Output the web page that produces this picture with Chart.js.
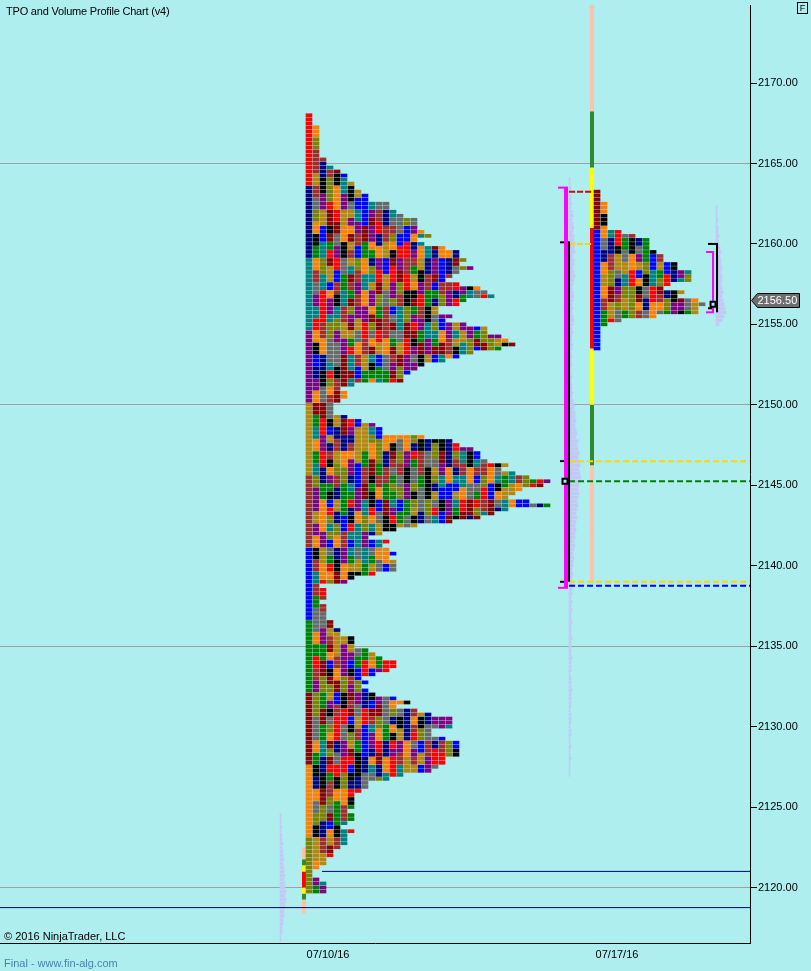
<!DOCTYPE html>
<html>
<head>
<meta charset="utf-8">
<title>TPO and Volume Profile Chart (v4)</title>
<script src="https://cdn.jsdelivr.net/npm/chart.js@4.4.1/dist/chart.umd.min.js"></script>
<style>
  html, body { margin: 0; padding: 0; background: #afeeee; }
  #wrap { position: relative; width: 811px; height: 971px; overflow: hidden; }
  #tpochart { position: absolute; left: 0; top: 0; }
  .lbl { position: absolute; font-family: 'Liberation Sans', Arial, sans-serif; font-size: 11px; line-height: 13px; color: #000; white-space: nowrap; }
  #title { left: 6px; top: 5px; letter-spacing: -0.2px; }
  #copy { left: 4px; top: 930px; }
  #final { left: 4px; top: 957px; color: #4682b4; }
  #fbox { left: 797px; top: 2px; width: 9px; height: 10px; border: 1px solid #000; font-size: 9px; line-height: 10px; text-align: center; }
</style>
</head>
<body>
<div id="wrap">
  <canvas id="tpochart" width="811" height="971"></canvas>
  <div class="lbl" id="title">TPO and Volume Profile Chart (v4)</div>
  <div class="lbl" id="fbox">F</div>
  <div class="lbl" id="copy">© 2016 NinjaTrader, LLC</div>
  <div class="lbl" id="final">Final - www.fin-alg.com</div>
</div>
<script>
// price axis
const TICK = 0.25;
const PRICE_MIN = 2116.55;
const PRICE_MAX = 2174.85;
const PRICE_TICKS = [2120, 2125, 2130, 2135, 2140, 2145, 2150, 2155, 2160, 2165, 2170];
const GRID_PRICES = [2120, 2135, 2150, 2165];

// x axis is counted in TPO columns
const X_MAX = 107.14;
const DATE_LABELS = ["07/10/16", "07/17/16"];
const DATE_POS = [46.86, 88.14];

// TPO letters per 0.25 row, going down from the top price
const TPO_A_TOP = 2168;
const TPO_A_START = 43.71;
const TPO_A_COUNT = [
    1, 1, 1, 2, 2, 2, 2, 2, 2, 2,
    2, 3, 3, 4, 5, 6, 6, 7, 7, 8,
    9, 9, 12, 12, 13, 14, 16, 16, 16, 17,
    18, 16, 17, 20, 22, 22, 23, 22, 24, 22,
    21, 20, 22, 25, 26, 27, 23, 22, 19, 19,
    21, 20, 23, 26, 26, 28, 29, 30, 28, 24,
    22, 20, 17, 16, 15, 14, 14, 7, 5, 6,
    6, 5, 4, 4, 4, 6, 8, 10, 11, 11,
    17, 21, 22, 24, 25, 25, 26, 29, 28, 30,
    32, 35, 34, 31, 30, 29, 32, 35, 29, 27,
    25, 21, 16, 13, 11, 9, 12, 11, 12, 13,
    12, 13, 13, 13, 10, 7, 6, 2, 3, 3,
    3, 2, 3, 3, 3, 3, 4, 4, 5, 5,
    7, 7, 7, 9, 10, 11, 13, 13, 12, 10,
    8, 9, 8, 9, 10, 13, 15, 13, 16, 18,
    21, 21, 21, 18, 18, 20, 22, 22, 22, 22,
    20, 20, 19, 18, 14, 12, 9, 9, 8, 7,
    7, 7, 7, 6, 7, 7, 6, 5, 7, 6,
    6, 6, 5, 4, 4, 3, 3, 2, 1, 1,
    2, 3, 3, 3
];

const TPO_B_TOP = 2163.25;
const TPO_B_START = 84.86;
const TPO_B_COUNT = [
    1, 1, 1, 2, 2, 2, 2, 2, 2, 2,
    4, 6, 8, 8, 8, 9, 10, 10, 12, 12,
    14, 14, 14, 11, 10, 13, 12, 15, 16, 15,
    15, 9, 4, 2, 1, 1, 1, 1, 1, 1
];

// volume profiles (relative volume per 0.25 row, going down)
const VOL_A_TOP = 2124.5;
const VOL_A_START = 40;
const VOL_A = [
    1, 1, 1, 2, 1, 2, 2, 3, 2, 3, 3, 4, 3, 4, 4, 5,
    4, 5, 5, 6, 5, 6, 5, 5, 4, 4, 3, 3, 2, 2, 1, 1
];
const VOL_B_TOP = 2164;
const VOL_B_START = 81.29;
const VOL_B = [
    1, 1, 2, 1, 2, 2, 3, 2, 3, 4, 3, 4, 5, 4, 5,
    5, 6, 5, 6, 4, 5, 5, 4, 5, 6, 5, 4, 3, 4, 5, 4, 3, 4, 3, 4, 5, 4, 3, 4, 3, 3, 4, 3, 2, 3,
    2, 3, 2, 2, 3, 2, 3, 3, 4, 3, 4, 5, 5, 6,
    6, 7, 6, 7, 8, 7, 9, 8, 9, 10, 9, 10, 11, 10, 11, 12, 11, 10, 9, 10, 9, 8, 9, 8, 7, 8, 7, 6, 7, 6,
    6, 5, 6, 5, 4, 5, 4, 4, 3, 4, 3, 3, 4, 3, 3, 2, 3, 2, 3, 2, 2, 3, 2, 2, 2, 3, 2, 2,
    2, 2, 3, 2, 2, 2, 1, 2, 2, 2, 3, 2, 2, 2, 2, 1, 2, 2, 2, 1, 2, 2, 1, 1, 2, 1, 1, 2, 1, 1, 1, 1
];
const VOL_C_TOP = 2162.25;
const VOL_C_START = 102.29;
const VOL_C = [
    1, 1, 1, 2, 1, 2, 2, 3, 2, 3, 4, 5, 4, 5, 5,
    6, 5, 6, 6, 5, 6, 7, 6, 7, 8, 9, 10, 8, 6, 3
];

// initial balance and range extension levels
const RANGE_A_X = 43.43;
const RANGE_A_LEVELS = [2122.5, 2121.75, 2121.375, 2121, 2120, 2119.625, 2119.25, 2118.375];
const RANGE_B_X = 84.57;
const RANGE_B_LEVELS = [2175.25, 2168.25, 2164.75, 2161, 2153.5, 2150, 2146.25, 2139];

// value area / range brackets
const MAGENTA_A = [2163.5, 2138.625];
const BLACK_A = [2160.1, 2139];
const BLACK_A_MARK = 2146.5;
const POC_A = 2145.25;
const MAGENTA_C = [2159.5, 2155.75];
const BLACK_C = [2160, 2155.75];
const BLACK_C_MARK = 2156;
const POC_C = 2156.25;

// carried levels
const SHORT_LEVELS = [2163.25, 2160];
const LONG_LEVELS = [2146.5, 2145.25, 2139, 2138.75];
const NAVY_LEVELS = [2121, 2118.75];
const LAST_PRICE = 2156.5;

// styles
const BG = "#afeeee";
const PALETTE = ["#ff0000", "#808000", "#008000", "#a52a2a", "#000000", "#008080", "#8b0000",
                 "#ff8000", "#800080", "#0000ff", "#000080", "#b8860b", "#696969"];
const FIRST_A = [0, 10, 5, 8, 11, 3, 9, 2, 6, 7, 1];
const FIRST_B = [6, 9, 9, 9];
const RANGE_COLORS = ["#ffc4a8", "#2e8b2e", "#ffff00", "#ff0000", "#ffff00", "#2e8b2e", "#ffc4a8"];
const SHORT_COLORS = ["#e00000", "#ffd700"];
const LONG_COLORS = ["#ffd700", "#008000", "#ffd700", "#0000ff"];
const CELL = 6 / 7;
const VOL_SCALE = 1 / 7;
const VOL_COLOR = "#c3c9f6";

Chart.defaults.font.family = "'Liberation Sans', Arial, sans-serif";
Chart.defaults.font.size = 11;
Chart.defaults.color = "#000";

function cellColor(i, k, seed, first, firstRun) {
    if (k === 0) return first[Math.floor(i / firstRun) % first.length];
    const run = 2 + (k % 3);
    let h = Math.imul(Math.floor(i / run) + 1 + seed * 131, 0x9E3779B1) ^ Math.imul(k + 7, 0x85EBCA6B);
    h ^= h >>> 15;
    h = Math.imul(h, 0x2C1B3C6D);
    h ^= h >>> 12;
    return (h >>> 0) % PALETTE.length;
}

const buckets = PALETTE.map(() => []);
function addProfile(top, start, counts, seed, first, firstRun) {
    counts.forEach((n, i) => {
        for (let k = 0; k < n; k++) {
            buckets[cellColor(i, k, seed, first, firstRun)].push({ y: top - i * TICK, x: [start + k, start + k + CELL] });
        }
    });
}
addProfile(TPO_A_TOP, TPO_A_START, TPO_A_COUNT, 0, FIRST_A, 18);
addProfile(TPO_B_TOP, TPO_B_START, TPO_B_COUNT, 2, FIRST_B, 10);

function volBars(top, start, vols) {
    return vols.map((v, i) => ({ y: top - i * TICK, x: [start, start + v * VOL_SCALE] }));
}

function seg(points, color, width, dash, order) {
    return {
        type: "line", data: points, borderColor: color, borderWidth: width,
        borderDash: dash || [], pointRadius: 0, pointHoverRadius: 0, fill: false, tension: 0,
        borderCapStyle: "butt", order: order
    };
}

const datasets = [];

// volume profiles underneath
[[VOL_A_TOP, VOL_A_START, VOL_A], [VOL_B_TOP, VOL_B_START, VOL_B], [VOL_C_TOP, VOL_C_START, VOL_C]].forEach(v => {
    datasets.push({
        type: "bar", indexAxis: "y", data: volBars(v[0], v[1], v[2]),
        backgroundColor: VOL_COLOR, barThickness: 3, grouped: false, order: 10
    });
});

// TPO letters
PALETTE.forEach((c, j) => {
    datasets.push({
        type: "bar", indexAxis: "y", data: buckets[j],
        backgroundColor: c, barThickness: 3, grouped: false, order: 5
    });
});

// range bars
RANGE_COLORS.forEach((c, j) => {
    datasets.push(seg([{ x: RANGE_A_X, y: RANGE_A_LEVELS[j] }, { x: RANGE_A_X, y: RANGE_A_LEVELS[j + 1] }], c, 4, null, 6));
    datasets.push(seg([{ x: RANGE_B_X, y: RANGE_B_LEVELS[j] }, { x: RANGE_B_X, y: RANGE_B_LEVELS[j + 1] }], c, 4, null, 6));
});

// navy levels
datasets.push(seg([{ x: 46, y: NAVY_LEVELS[0] }, { x: X_MAX, y: NAVY_LEVELS[0] }], "#000080", 1, null, 4));
datasets.push(seg([{ x: 0, y: NAVY_LEVELS[1] }, { x: X_MAX, y: NAVY_LEVELS[1] }], "#000080", 1, null, 4));

// dashed levels
SHORT_LEVELS.forEach((p, j) => {
    datasets.push(seg([{ x: 81.29, y: p }, { x: 84.43, y: p }], SHORT_COLORS[j], 2, [6, 2], 3));
});
LONG_LEVELS.forEach((p, j) => {
    datasets.push(seg([{ x: 81.29, y: p }, { x: X_MAX, y: p }], LONG_COLORS[j], 2, [6, 3], 3));
});

// brackets, first day
datasets.push(seg([{ x: 80.86, y: MAGENTA_A[0] }, { x: 80.86, y: MAGENTA_A[1] }], "#ff00ff", 4, null, 2));
datasets.push(seg([{ x: 79.71, y: MAGENTA_A[0] }, { x: 81.14, y: MAGENTA_A[0] }], "#ff00ff", 2, null, 2));
datasets.push(seg([{ x: 79.71, y: MAGENTA_A[1] }, { x: 81.14, y: MAGENTA_A[1] }], "#ff00ff", 2, null, 2));
datasets.push(seg([{ x: 81.29, y: BLACK_A[0] }, { x: 81.29, y: BLACK_A[1] }], "#000", 2, null, 2));
datasets.push(seg([{ x: 80, y: BLACK_A[0] }, { x: 81.43, y: BLACK_A[0] }], "#000", 2, null, 2));
datasets.push(seg([{ x: 80, y: BLACK_A[1] }, { x: 80.57, y: BLACK_A[1] }], "#000", 2, null, 2));
datasets.push(seg([{ x: 80, y: BLACK_A_MARK }, { x: 80.57, y: BLACK_A_MARK }], "#000", 2, null, 2));

// brackets, second day
datasets.push(seg([{ x: 101.86, y: MAGENTA_C[0] }, { x: 101.86, y: MAGENTA_C[1] }], "#ff00ff", 2, null, 2));
datasets.push(seg([{ x: 100.86, y: MAGENTA_C[0] }, { x: 102, y: MAGENTA_C[0] }], "#ff00ff", 2, null, 2));
datasets.push(seg([{ x: 100.86, y: MAGENTA_C[1] }, { x: 102, y: MAGENTA_C[1] }], "#ff00ff", 2, null, 2));
datasets.push(seg([{ x: 102.43, y: BLACK_C[0] }, { x: 102.43, y: BLACK_C[1] }], "#000", 2, null, 2));
datasets.push(seg([{ x: 101.14, y: BLACK_C[0] }, { x: 102.57, y: BLACK_C[0] }], "#000", 2, null, 2));
datasets.push(seg([{ x: 101.14, y: BLACK_C_MARK }, { x: 101.71, y: BLACK_C_MARK }], "#000", 2, null, 2));

// point of control boxes
datasets.push({
    type: "scatter", data: [{ x: 80.71, y: POC_A }, { x: 101.86, y: POC_C }],
    pointStyle: "rect", pointRadius: 3.5, pointHoverRadius: 3.5, borderWidth: 2, borderColor: "#000",
    backgroundColor: BG, order: 1
});

const lastPricePlugin = {
    id: "lastPrice",
    afterDraw(chart) {
        const { ctx, chartArea, scales } = chart;
        const y = Math.round(scales.y.getPixelForValue(LAST_PRICE)) + 0.5;
        const x0 = chartArea.right + 1.5;
        ctx.save();
        ctx.beginPath();
        ctx.moveTo(x0, y);
        ctx.lineTo(x0 + 6, y - 7);
        ctx.lineTo(x0 + 48, y - 7);
        ctx.lineTo(x0 + 48, y + 7);
        ctx.lineTo(x0 + 6, y + 7);
        ctx.closePath();
        ctx.fillStyle = "#6e6e6e";
        ctx.fill();
        ctx.strokeStyle = "#000";
        ctx.lineWidth = 1;
        ctx.stroke();
        ctx.fillStyle = "#fff";
        ctx.font = "11px 'Liberation Sans', Arial, sans-serif";
        ctx.textBaseline = "middle";
        ctx.fillText(LAST_PRICE.toFixed(2), x0 + 6, y + 0.5);
        ctx.restore();
    }
};

new Chart(document.getElementById("tpochart"), {
    type: "scatter",
    data: { datasets: datasets },
    options: {
        responsive: false,
        animation: false,
        events: [],
        layout: { autoPadding: false, padding: { top: 5, left: 0, right: 0, bottom: 0 } },
        plugins: { legend: { display: false }, tooltip: { enabled: false } },
        scales: {
            x: {
                type: "linear",
                min: 0,
                max: X_MAX,
                offset: false,
                afterBuildTicks: (scale) => { scale.ticks = DATE_POS.map(v => ({ value: v })); },
                afterFit: (scale) => { scale.height = 28; scale.paddingLeft = 0; scale.paddingRight = 0; },
                ticks: {
                    autoSkip: false, maxRotation: 0, padding: 5,
                    font: { size: 11 }, color: "#000",
                    callback: (v, i) => DATE_LABELS[i]
                },
                grid: { display: false, drawTicks: false, offset: false },
                border: { display: true, color: "#000", width: 1 }
            },
            y: {
                type: "linear",
                position: "right",
                min: PRICE_MIN,
                max: PRICE_MAX,
                offset: false,
                afterBuildTicks: (scale) => { scale.ticks = PRICE_TICKS.map(v => ({ value: v })); },
                afterFit: (scale) => { scale.width = 61; scale.paddingTop = 0; scale.paddingBottom = 0; },
                ticks: {
                    padding: 1, font: { size: 11 }, color: "#000",
                    callback: (v) => v.toFixed(2)
                },
                grid: {
                    offset: false,
                    drawOnChartArea: true,
                    tickLength: 7,
                    tickColor: "#000",
                    color: (c) => (c.tick && GRID_PRICES.includes(c.tick.value)) ? "#a0a0a0" : "rgba(0,0,0,0)"
                },
                border: { display: true, color: "#000", width: 1 }
            }
        }
    },
    plugins: [lastPricePlugin]
});
</script>
</body>
</html>
